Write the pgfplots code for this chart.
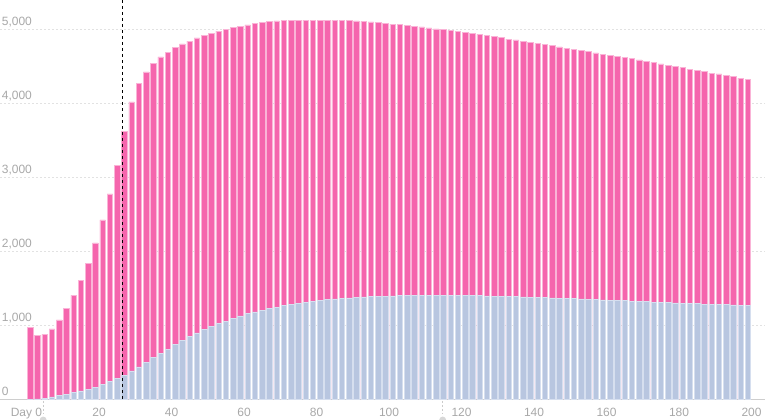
\documentclass[border=0pt]{standalone}
\usepackage{fontspec}
\setmainfont{Liberation Sans}
\usepackage{pgfplots}
\usepackage{pgfplotstable}
\pgfplotsset{compat=1.18}

\definecolor{barpink}{HTML}{F565AD}
\definecolor{pinkedge}{HTML}{FAB4D7}
\definecolor{barblue}{HTML}{B8C6E0}
\definecolor{blueedge}{HTML}{D6DFEF}
\definecolor{labgray}{HTML}{A8A8A8}
\definecolor{gridgray}{HTML}{E2E2E2}

% day, total (top of pink bar), blue part
\pgfplotstableread{
day total blue
1 972 0
3 869 7
5 882 16
7 954 34
9 1076 52
11 1229 70
13 1410 92
15 1613 115
17 1847 142
19 2118 169
21 2429 200
23 2781 241
25 3173 282
27 3633 331
29 4026 386
31 4274 440
33 4432 503
35 4549 566
37 4635 629
39 4702 683
41 4761 747
43 4811 801
45 4851 850
47 4892 900
49 4928 945
51 4959 985
53 4986 1026
55 5013 1062
57 5036 1093
59 5054 1130
61 5068 1161
63 5085 1184
65 5099 1211
67 5112 1229
69 5122 1250
71 5126 1270
73 5135 1288
75 5135 1304
77 5135 1318
79 5135 1331
81 5135 1342
83 5135 1352
85 5131 1361
87 5131 1369
89 5126 1376
91 5122 1382
93 5117 1387
95 5110 1392
97 5099 1396
99 5090 1399
101 5081 1402
103 5072 1404
105 5063 1406
107 5050 1407
109 5041 1408
111 5027 1409
113 5014 1409
115 5004 1409
117 4991 1409
119 4982 1408
121 4969 1407
123 4955 1406
125 4941 1404
127 4928 1402
129 4914 1400
131 4896 1398
133 4878 1395
135 4865 1392
137 4851 1389
139 4833 1386
141 4820 1383
143 4806 1379
145 4788 1376
147 4770 1372
149 4756 1368
151 4738 1364
153 4725 1360
155 4707 1356
157 4689 1352
159 4675 1348
161 4657 1344
163 4644 1340
165 4626 1336
167 4612 1332
169 4594 1328
171 4576 1324
173 4558 1319
175 4540 1315
177 4522 1311
179 4504 1307
181 4490 1303
183 4472 1299
185 4454 1295
187 4436 1291
189 4418 1288
191 4405 1285
193 4387 1282
195 4369 1279
197 4350 1276
199 4332 1273
}\data

\begin{document}
\begin{tikzpicture}
\path[use as bounding box] (0,-15.375pt) rectangle (573.75pt,299.625pt);
\begin{axis}[
  scale only axis,
  width=573.75pt, height=299.625pt,
  xmin=-7.31, xmax=203.7,
  ymin=0, ymax=5406,
  clip=false,
  axis line style={draw=none},
  major tick length=0pt,
  xtick={0,20,...,200},
  xticklabels={Day 0,20,40,60,80,100,120,140,160,180,200},
  ytick={0,1000,...,5000},
  ymajorgrids,
  grid style={gridgray, line width=0.75pt, dash pattern=on 1.5pt off 1.5pt},
  tick label style={font=\fontsize{9}{11}\selectfont, text=labgray},
  xticklabel style={anchor=base, inner sep=0pt, yshift=-12.9pt},
  yticklabel style={anchor=base west, inner sep=0pt, xshift=1.2pt, yshift=3pt},
  /pgf/number format/assume math mode=true,
  /pgf/number format/1000 sep={,},
]
\draw[gridgray!80!gray, line width=1pt] (rel axis cs:0,0) -- (rel axis cs:1,0);
\addplot[ybar, bar width=1.5, bar shift=0pt, fill=barpink, draw=pinkedge, line width=0.45pt]
  table[x=day, y=total] {\data};
\addplot[ybar, bar width=1.5, bar shift=0pt, fill=barblue, draw=blueedge, line width=0.45pt]
  table[x=day, y=blue] {\data};
% marker of the current day
\draw[black, line width=0.75pt, dash pattern=on 2.25pt off 2.25pt]
  (axis cs:26.45,5406) -- ([yshift=-1.5pt]axis cs:26.45,0);
% slider handles under the axis
\draw[labgray!60, line width=0.75pt, dash pattern=on 1.5pt off 1.5pt]
  ([yshift=-1pt]axis cs:4.6,0) -- ([yshift=-11pt]axis cs:4.6,0);
\fill[labgray!45] ([yshift=-15.4pt]axis cs:4.6,0) circle (2.6pt);
\draw[labgray!60, line width=0.75pt, dash pattern=on 1.5pt off 1.5pt]
  ([yshift=-1pt]axis cs:114.8,0) -- ([yshift=-11pt]axis cs:114.8,0);
\fill[labgray!45] ([yshift=-15.4pt]axis cs:114.8,0) circle (2.6pt);
\end{axis}
\end{tikzpicture}
\end{document}
